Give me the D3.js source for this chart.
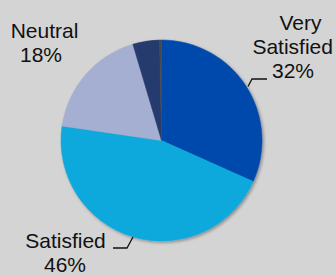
<!DOCTYPE html>
<html>
<head>
<meta charset="utf-8">
<script src="https://cdn.jsdelivr.net/npm/d3@7"></script>
<style>
  html, body { margin: 0; padding: 0; background: #D4D4D4; }
  svg { display: block; }
  text { font-family: "Liberation Sans", Arial, sans-serif; font-size: 21px; fill: #111; }
</style>
</head>
<body>
<script>
const categories = ["Very Satisfied", "Satisfied", "Neutral", "Dissatisfied", "Very Dissatisfied"];
const values = [31.7, 45.6, 18.1, 4.3, 0.3];
const colors = ["#0049AC", "#0CA8DC", "#A4AFD1", "#283B6D", "#4A4A4A"];
const labelTexts = [["Very", "Satisfied", "32%"], ["Satisfied", "46%"], ["Neutral", "18%"]];

const W = 336, H = 275;
const cx = 161.5, cy = 140.5, r = 100.5;

const svg = d3.select("body").append("svg").attr("width", W).attr("height", H);
svg.append("rect").attr("width", W).attr("height", H).attr("fill", "#D4D4D4");

const defs = svg.append("defs");
const f = defs.append("filter").attr("id", "sh").attr("x", "-10%").attr("y", "-10%").attr("width", "120%").attr("height", "120%");
f.append("feDropShadow").attr("dx", 1.5).attr("dy", 1.5).attr("stdDeviation", 1.5)
  .attr("flood-color", "#000").attr("flood-opacity", 0.35);

const pie = d3.pie().sort(null).value(d => d).startAngle(0).endAngle(2 * Math.PI);
const arc = d3.arc().innerRadius(0).outerRadius(r);

const g = svg.append("g").attr("transform", `translate(${cx},${cy})`).attr("filter", "url(#sh)");
g.selectAll("path").data(pie(values)).enter().append("path")
  .attr("d", arc)
  .attr("fill", (d, i) => colors[i])
  .attr("stroke", (d, i) => colors[i])
  .attr("stroke-width", 0.5);

// Labels
const labelPos = [
  { lines: labelTexts[0], xs: [300.5, 292.7, 293], ys: [30, 53.5, 78] },
  { lines: labelTexts[1], xs: [65.5, 65], ys: [248, 272] },
  { lines: labelTexts[2], xs: [44.5, 41], ys: [37.5, 61.5] }
];
labelPos.forEach(lp => {
  lp.lines.forEach((t, i) => {
    svg.append("text").attr("x", lp.xs[i]).attr("y", lp.ys[i])
      .attr("text-anchor", "middle").text(t);
  });
});

// Leader lines
const line = d3.line();
svg.append("path").attr("d", line([[248, 86.5], [252, 79], [267, 79]]))
  .attr("fill", "none").attr("stroke", "#111").attr("stroke-width", 1.3);
svg.append("path").attr("d", line([[113, 248], [127, 248], [133, 237]]))
  .attr("fill", "none").attr("stroke", "#111").attr("stroke-width", 1.3);
</script>
</body>
</html>
